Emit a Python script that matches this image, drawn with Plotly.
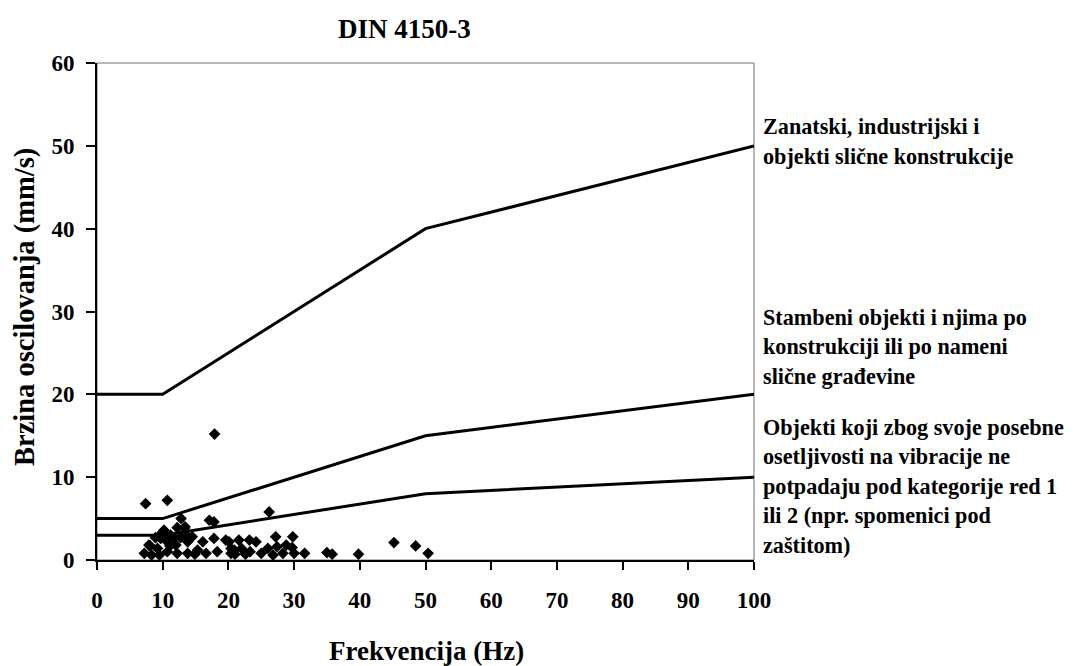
import plotly.graph_objects as go

# Limit curves (DIN 4150-3)
limit_x = [0, 10, 50, 100]
limit_cat1 = [20, 20, 40, 50]
limit_cat2 = [5, 5, 15, 20]
limit_cat3 = [3, 3, 8, 10]

# Measured points
meas_x = [17.9, 7.4, 10.7, 12.8, 26.2, 17.1, 17.8, 10.2, 13.3, 12.2, 13.4, 9.9,
          7.9, 7.2, 9.2, 9.7, 10.7, 11.2, 12.0, 12.8, 13.8, 14.5, 10.7, 12.2,
          13.8, 15.3, 16.1, 16.6, 17.8, 18.3, 19.6, 20.4, 8.3, 9.5, 8.9, 10.6,
          11.7, 12.7, 13.7, 20.1, 21.6, 23.2, 24.2, 20.9, 22.0, 23.3, 20.4,
          27.2, 29.8, 26.0, 27.4, 28.8, 25.0, 26.8, 28.3, 30.0, 31.6, 29.7,
          35.0, 35.8, 39.8, 45.2, 48.5, 50.4, 14.9, 21.0, 22.6, 11.1, 8.1]
meas_y = [15.2, 6.8, 7.2, 5.0, 5.8, 4.8, 4.6, 3.6, 3.8, 3.9, 4.0, 3.3,
          1.8, 0.8, 1.4, 2.6, 2.2, 3.0, 1.8, 2.8, 2.2, 2.8, 1.0, 0.8,
          0.8, 1.2, 2.2, 0.8, 2.6, 1.0, 2.4, 1.4, 0.6, 0.6, 2.7, 2.7,
          2.7, 2.7, 2.9, 2.2, 2.4, 2.4, 2.2, 1.2, 1.4, 1.0, 0.8,
          2.8, 2.8, 1.4, 1.6, 1.8, 0.8, 0.6, 0.8, 0.8, 0.8, 1.5,
          0.9, 0.7, 0.7, 2.1, 1.7, 0.8, 0.7, 0.7, 0.7, 1.7, 1.7]

x_ticks = list(range(0, 101, 10))
y_ticks = list(range(0, 61, 10))

title_text = "DIN 4150-3"
x_title = "Frekvencija (Hz)"
y_title = "Brzina oscilovanja (mm/s)"
cat1_lines = ["Zanatski, industrijski i", "objekti slične konstrukcije"]
cat2_lines = ["Stambeni objekti i njima po", "konstrukciji ili po nameni", "slične građevine"]
cat3_lines = ["Objekti koji zbog svoje posebne", "osetljivosti na vibracije ne",
              "potpadaju pod kategorije red 1", "ili 2 (npr. spomenici pod", "zaštitom)"]

FONT = "Liberation Serif"
W, H = 1073, 666
L, R, T, B = 97, 754, 63, 560

def px2paper_x(px):
    return (px - L) / (R - L)

def px2paper_y(py):
    return (B - py) / (B - T)

fig = go.Figure()
for ys in (limit_cat1, limit_cat2, limit_cat3):
    fig.add_trace(go.Scatter(x=limit_x, y=ys, mode="lines",
                             line=dict(color="black", width=3),
                             cliponaxis=False, showlegend=False, hoverinfo="skip"))
fig.add_trace(go.Scatter(x=meas_x, y=meas_y, mode="markers",
                         marker=dict(symbol="diamond", size=9, color="black"),
                         showlegend=False))

annotations = [
    dict(text="<b>%s</b>" % title_text, x=px2paper_x(404), y=px2paper_y(29),
         font=dict(size=27)),
    dict(text="<b>%s</b>" % x_title, x=px2paper_x(426), y=px2paper_y(651),
         font=dict(size=27)),
    dict(text="<b>%s</b>" % y_title, x=px2paper_x(25), y=px2paper_y(307),
         font=dict(size=28.5), textangle=-90),
]
for start, lines in ((127, cat1_lines), (317, cat2_lines), (427, cat3_lines)):
    for i, t in enumerate(lines):
        annotations.append(dict(text="<b>%s</b>" % t, x=px2paper_x(761),
                                y=px2paper_y(start + i * 29.6),
                                xanchor="left", font=dict(size=22.2)))
for a in annotations:
    a.setdefault("xanchor", "center")
    a.update(xref="paper", yref="paper", yanchor="middle", showarrow=False)
    a["font"].update(family=FONT, color="black")

fig.update_layout(
    width=W, height=H,
    margin=dict(l=L, r=W - R, t=T, b=H - B),
    paper_bgcolor="white", plot_bgcolor="white",
    font=dict(family=FONT, color="black"),
    annotations=annotations,
    shapes=[dict(type="rect", xref="paper", yref="paper", x0=0, y0=0, x1=1, y1=1,
                 line=dict(color="#707070", width=1), layer="below")],
    xaxis=dict(range=[0, 100], tickvals=x_ticks, ticktext=["<b>%d</b>" % v for v in x_ticks],
               showgrid=False, zeroline=False, showline=True, linecolor="black", linewidth=2,
               ticks="outside", ticklen=8, tickwidth=1.5, tickcolor="black",
               tickfont=dict(size=23, family=FONT), ticklabelstandoff=10),
    yaxis=dict(range=[0, 60], tickvals=y_ticks, ticktext=["<b>%d</b>" % v for v in y_ticks],
               showgrid=False, zeroline=False, showline=True, linecolor="black", linewidth=2,
               ticks="outside", ticklen=9, tickwidth=1.5, tickcolor="black",
               tickfont=dict(size=23, family=FONT), ticklabelstandoff=7),
)

fig.write_html(
    "out.html",
    config={"displayModeBar": False},
    post_script="document.body.style.margin='0';document.body.style.overflow='hidden';",
)
